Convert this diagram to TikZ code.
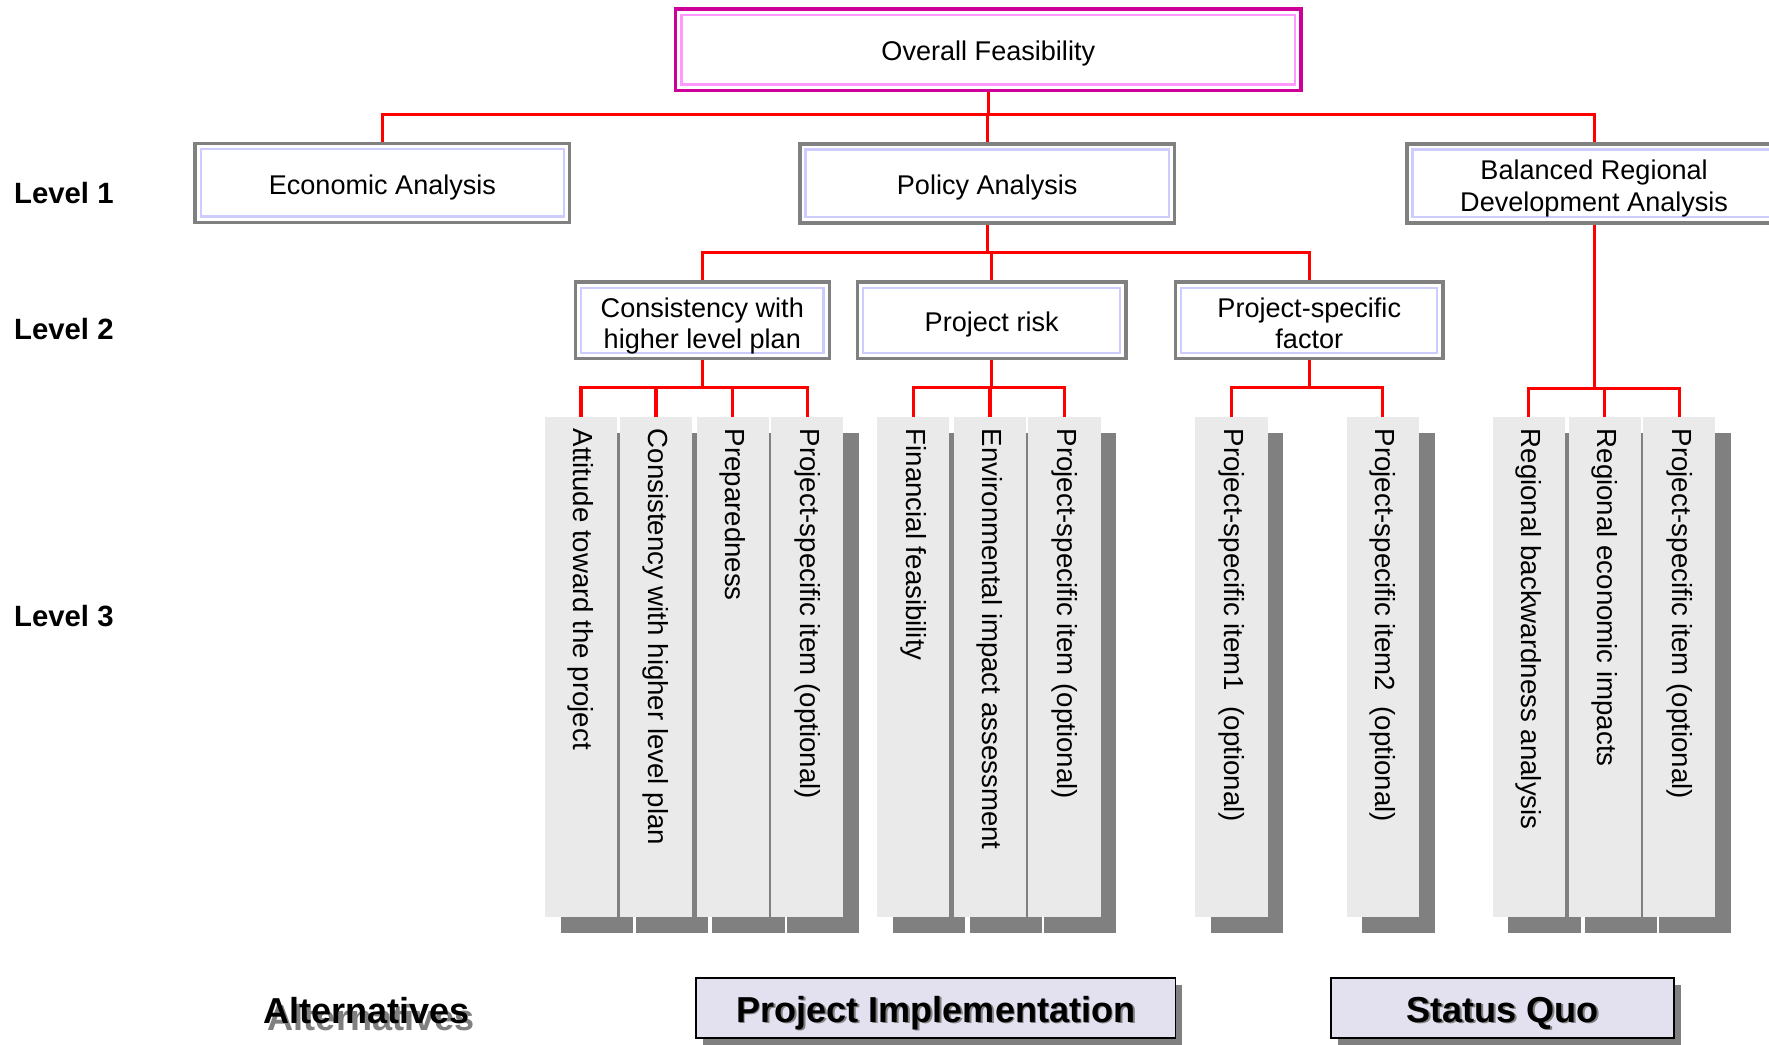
\documentclass[tikz,border=0pt]{standalone}
\usepackage{fontspec}
\setmainfont{Liberation Sans}
\usetikzlibrary{shadows}

\definecolor{linkred}{RGB}{255,0,0}
\definecolor{boxgray}{RGB}{128,128,128}
\definecolor{innerblue}{RGB}{204,204,255}
\definecolor{topmagenta}{RGB}{204,0,153}
\definecolor{innerpink}{RGB}{255,153,255}
\definecolor{colfill}{RGB}{234,234,234}
\definecolor{shadowgray}{RGB}{128,128,128}
\definecolor{altfill}{RGB}{227,225,239}

\begin{document}
\begin{tikzpicture}[x=1pt, y=-1pt, font=\fontsize{24}{28}\selectfont,
  link/.style={draw=linkred, line width=2.8pt},
  box/.style={draw=boxgray, line width=3pt, fill=white, align=center,
    text height=20pt, text depth=0pt,
    path picture={\draw[#1, line width=2pt]
      ([shift={(5pt,-5pt)}]path picture bounding box.north west) rectangle
      ([shift={(-5pt,5pt)}]path picture bounding box.south east);}},
  box/.default=innerblue,
  twolines/.style={text height=50pt},
  level1/.style={box, minimum width=332pt, minimum height=70pt},
  level2/.style={box, minimum height=68pt},
  col/.style={fill=colfill, minimum width=64pt, minimum height=443pt, inner sep=0pt,
    drop shadow={shadow xshift=14pt, shadow yshift=-14pt, fill=shadowgray, opacity=1}},
  coltext/.style={rotate=-90, anchor=west, inner xsep=10pt, font=\fontsize{24.5}{28}\selectfont},
  levellabel/.style={anchor=west, font=\fontsize{26}{30}\selectfont\bfseries},
  altbox/.style={draw=black, line width=1.5pt, fill=altfill, minimum height=53pt,
    drop shadow={shadow xshift=6pt, shadow yshift=-6pt, fill=shadowgray, opacity=1}},
  alttext/.style={font=\fontsize{32}{36}\selectfont\bfseries, text height=25pt, text depth=0pt},
  altshadow/.style={alttext, text=shadowgray}]

  \useasboundingbox (0,0) rectangle (1568,926);

  % Level labels
  \node[levellabel] (lv1) at (9,171) {Level 1};
  \node[levellabel] (lv2) at (9,292) {Level 2};
  \node[levellabel] (lv3) at (9,546) {Level 3};

  % Top box
  \node[box=innerpink, draw=topmagenta, minimum width=554pt, minimum height=72pt] (overall) at (876,44) {Overall Feasibility};

  % Level 1
  \node[level1] (econ) at (339,162) {Economic Analysis};
  \node[level1] (policy) at (875,162.5) {Policy Analysis};
  \node[level1, twolines] (balanced) at (1413,162.5) {Balanced Regional\\Development Analysis};

  % Level 2
  \node[level2, twolines, minimum width=225pt] (cons) at (622.5,284) {Consistency with\\higher level plan};
  \node[level2, minimum width=238pt] (risk) at (879,284) {Project risk};
  \node[level2, twolines, minimum width=237pt] (factor) at (1160.5,284) {Project-specific\\factor};

  % Level 3 columns
  \foreach \xc/\name/\txt in {515/c1/Attitude toward the project,
      581.5/c2/Consistency with higher level plan,
      649.5/c3/Preparedness,
      715.5/c4/Project-specific item (optional),
      809.5/c5/Financial feasibility,
      877.5/c6/Environmental impact assessment,
      943.5/c7/Project-specific item (optional),
      1091.5/c8/Project-specific item1\ \ (optional),
      1225.5/c9/Project-specific item2\ \ (optional),
      1355/c10/Regional backwardness analysis,
      1422.5/c11/Regional economic impacts,
      1488.5/c12/Project-specific item (optional)} {
    \node[col] (\name) at (\xc,591.5) {};
    \node[coltext] (t\name) at (\name.north) {\txt};
  }

  % Connectors from the top
  \draw[link] (overall.south) -- ++(0,20) coordinate (j0);
  \draw[link] (j0) -| (econ.north);
  \draw[link] (j0) -| (policy.north);
  \draw[link] (j0) -| (balanced.north);

  % Policy analysis to level 2
  \draw[link] (policy.south) -- ++(0,25) coordinate (j1);
  \foreach \c in {cons,risk,factor}
    \draw[link] (j1) -| (\c.north);

  % Level 2 to level 3
  \draw[link] (cons.south) -- ++(0,24) coordinate (j2);
  \foreach \c in {c1,c2,c3,c4}
    \draw[link] (j2) -| (\c.north);
  \draw[link] (risk.south) -- ++(0,24) coordinate (j3);
  \foreach \c in {c5,c6,c7}
    \draw[link] (j3) -| (\c.north);
  \draw[link] (factor.south) -- ++(0,24) coordinate (j4);
  \foreach \c in {c8,c9}
    \draw[link] (j4) -| (\c.north);
  \draw[link] (balanced.south) -- ++(0,145) coordinate (j5);
  \foreach \c in {c10,c11,c12}
    \draw[link] (j5) -| (\c.north);

  % Alternatives
  \node[altshadow] (altsh) at (329,901) {Alternatives};
  \node[alttext] (alt) at (325,895) {Alternatives};

  \node[altbox, minimum width=425pt] (impl) at (829.5,893.5) {};
  \node[altshadow] (implsh) at ([shift={(1.5pt,-1.5pt)}]impl.center) {Project Implementation};
  \node[alttext] (impltext) at (impl.center) {Project Implementation};

  \node[altbox, minimum width=304pt] (status) at (1332,893.5) {};
  \node[altshadow] (statussh) at ([shift={(1.5pt,-1.5pt)}]status.center) {Status Quo};
  \node[alttext] (statustext) at (status.center) {Status Quo};

\end{tikzpicture}
\end{document}
